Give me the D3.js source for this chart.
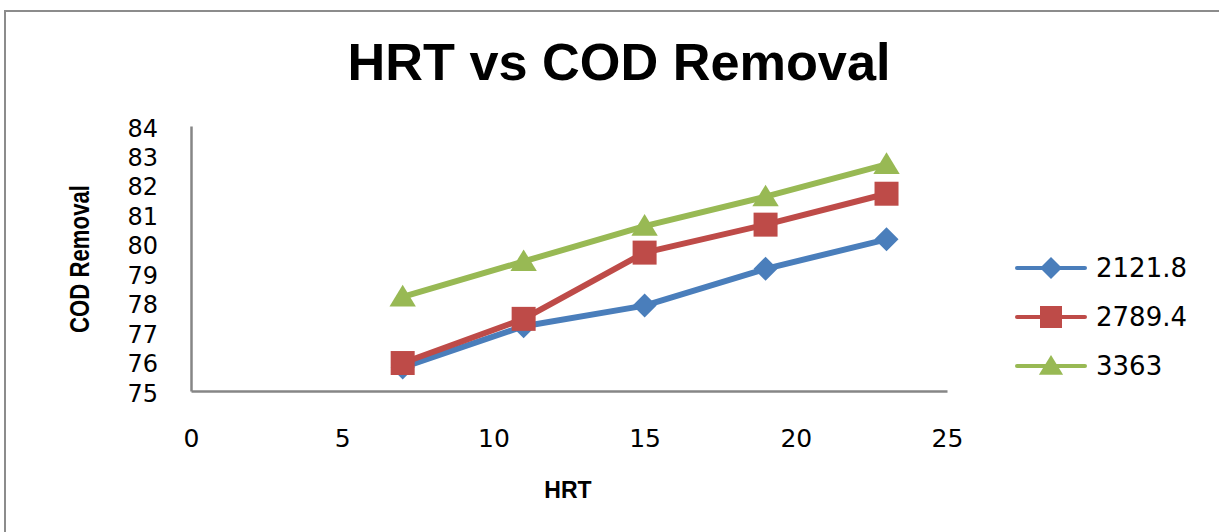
<!DOCTYPE html>
<html>
<head>
<meta charset="utf-8">
<script src="https://cdn.jsdelivr.net/npm/d3@7"></script>
<style>
  body { margin: 0; background: #fff; }
  svg { display: block; }
</style>
</head>
<body>
<div id="chart"></div>
<script>
var width = 1219,
    height = 532;

// data
var hrt = [7, 11, 15, 19, 23];
var seriesNames = ["2121.8", "2789.4", "3363"];
var cod2121 = [75.8, 77.2, 77.9, 79.15, 80.15];
var cod2789 = [75.95, 77.45, 79.7, 80.65, 81.7];
var cod3363 = [78.2, 79.4, 80.6, 81.6, 82.7];
var xTicks = [0, 5, 10, 15, 20, 25];
var yTicks = [75, 76, 77, 78, 79, 80, 81, 82, 83, 84];

var colors = ["#4A7EBB", "#BE4B48", "#98B954"];
var shapes = ["diamond", "square", "triangle"];
var allSeries = [cod2121, cod2789, cod3363];

var svg = d3.select("#chart")
    .append("svg")
    .attr("width", width)
    .attr("height", height);

// chart frame (runs off right and bottom edge)
svg.append("rect")
    .attr("x", 5)
    .attr("y", 11)
    .attr("width", 1400)
    .attr("height", 700)
    .attr("fill", "none")
    .attr("stroke", "#8c8c8c")
    .attr("stroke-width", 2);

var x = d3.scaleLinear().domain([0, 25]).range([191, 947]);
var y = d3.scaleLinear().domain([75, 84]).range([391, 126]);

// title
svg.append("text")
    .attr("x", 619)
    .attr("y", 80)
    .attr("text-anchor", "middle")
    .attr("textLength", 543)
    .attr("lengthAdjust", "spacingAndGlyphs")
    .style("font-family", "Liberation Sans, Arial, sans-serif")
    .style("font-weight", "bold")
    .style("font-size", "52px")
    .text("HRT vs COD Removal");

// axes
var xAxis = svg.append("g")
    .attr("transform", "translate(0," + y(75) + ")")
    .call(d3.axisBottom(x).tickValues(xTicks).tickSize(0).tickPadding(38).tickFormat(d3.format("d")));

var yAxis = svg.append("g")
    .attr("transform", "translate(" + x(0) + ",0)")
    .call(d3.axisLeft(y).tickValues(yTicks).tickSize(0).tickPadding(33).tickFormat(d3.format("d")));

xAxis.select(".domain").attr("stroke", "#868686").attr("stroke-width", 2.5);
yAxis.select(".domain").attr("stroke", "#868686").attr("stroke-width", 2.5);

xAxis.selectAll("text")
    .style("font-family", "DejaVu Sans, sans-serif")
    .style("font-size", "25px")
    .attr("fill", "#000");

yAxis.selectAll("text")
    .style("font-family", "DejaVu Sans, sans-serif")
    .style("font-size", "24px")
    .attr("dy", "0.42em")
    .attr("fill", "#000");

// axis titles
svg.append("text")
    .attr("transform", "translate(89,259) rotate(-90)")
    .attr("text-anchor", "middle")
    .attr("textLength", 148)
    .attr("lengthAdjust", "spacingAndGlyphs")
    .style("font-family", "Liberation Sans Narrow, Arial Narrow, sans-serif")
    .style("font-weight", "bold")
    .style("font-size", "27px")
    .text("COD Removal");

svg.append("text")
    .attr("x", 568)
    .attr("y", 498)
    .attr("text-anchor", "middle")
    .style("font-family", "Liberation Sans, Arial, sans-serif")
    .style("font-weight", "bold")
    .style("font-size", "23px")
    .text("HRT");

function markerPath(shape, r) {
    if (shape == "diamond") {
        return "M0," + (-r) + "L" + r + ",0L0," + r + "L" + (-r) + ",0Z";
    } else if (shape == "square") {
        return "M" + (-r) + "," + (-r) + "H" + r + "V" + r + "H" + (-r) + "Z";
    } else {
        return "M0," + (-r) + "L" + (r * 1.1) + "," + (r * 0.8) + "L" + (-r * 1.1) + "," + (r * 0.8) + "Z";
    }
}

var line = d3.line()
    .x(function(d, i) { return x(hrt[i]); })
    .y(function(d) { return y(d); });

allSeries.forEach(function(values, s) {
    var g = svg.append("g");
    g.append("path")
        .datum(values)
        .attr("d", line)
        .attr("fill", "none")
        .attr("stroke", colors[s])
        .attr("stroke-width", 6)
        .attr("stroke-linejoin", "round");
    g.selectAll("path.marker")
        .data(values)
        .enter().append("path")
        .attr("class", "marker")
        .attr("transform", function(d, i) {
            return "translate(" + x(hrt[i]) + "," + y(d) + ")";
        })
        .attr("d", markerPath(shapes[s], 12))
        .attr("fill", colors[s]);
});

// legend
var legendRows = [268, 317, 366];
seriesNames.forEach(function(name, s) {
    var g = svg.append("g").attr("transform", "translate(0," + legendRows[s] + ")");
    g.append("line")
        .attr("x1", 1017)
        .attr("x2", 1085)
        .attr("y1", 0)
        .attr("y2", 0)
        .attr("stroke", colors[s])
        .attr("stroke-width", 4)
        .attr("stroke-linecap", "round");
    g.append("path")
        .attr("transform", "translate(1051,0)")
        .attr("d", markerPath(shapes[s], 11))
        .attr("fill", colors[s]);
    g.append("text")
        .attr("x", 1096)
        .attr("y", 0)
        .attr("dy", "0.36em")
        .style("font-family", "DejaVu Sans, sans-serif")
        .style("font-size", "26px")
        .text(name);
});
</script>
</body>
</html>
